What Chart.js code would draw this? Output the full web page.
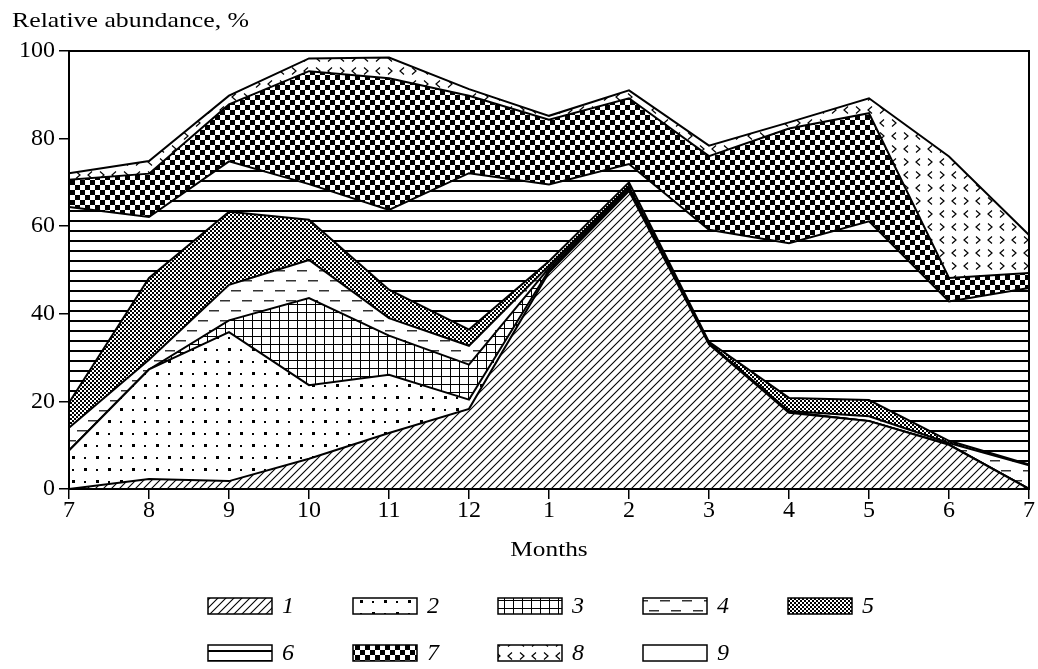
<!DOCTYPE html>
<html>
<head>
<meta charset="utf-8">
<script src="https://cdn.jsdelivr.net/npm/chart.js@4"></script>
<style>
  html, body { margin: 0; padding: 0; background: #fff; }
  #wrap { width: 1038px; height: 669px; }
</style>
</head>
<body>
<div id="wrap"><canvas id="abundance" width="1038" height="669"></canvas></div>
<script>
// months (July .. July)
var months = ['7', '8', '9', '10', '11', '12', '1', '2', '3', '4', '5', '6', '7'];
var seriesNames = ['1', '2', '3', '4', '5', '6', '7', '8', '9'];

// relative abundance of each group, % (stacked bottom -> top)
var g1 = [0, 2.3, 1.8, 6.9, 12.8, 18.3, 49.5, 68.0, 33.0, 17.4, 15.5, 10.1, 0];
var g2 = [8.8, 25.0, 34.0, 16.8, 13.3, 2.1, 0.5, 0.3, 0.1, 0.1, 0, 0, 0];
var g3 = [0, 0, 2.7, 19.9, 8.9, 8.0, 0.5, 0.3, 0.1, 0.1, 0, 0, 0];
var g4 = [5.2, 2.2, 8.1, 8.7, 4.0, 4.3, 0.5, 0.4, 0.1, 0.2, 1.1, 0.4, 5.4];
var g5 = [5.7, 18.7, 16.7, 9.2, 6.5, 3.7, 1.0, 1.0, 0.3, 3.0, 3.7, 0.5, 0.2];
var g6 = [44.7, 13.9, 11.5, 8.1, 18.2, 35.7, 17.5, 4.2, 25.6, 35.3, 40.8, 31.8, 40.3];
var g7 = [6.2, 9.9, 13.0, 25.8, 30.1, 17.7, 14.8, 15.0, 16.8, 26.2, 24.7, 5.4, 3.4];
var g8 = [1.5, 2.9, 2.0, 2.9, 4.7, 1.5, 0.9, 1.8, 2.4, 1.4, 3.4, 27.7, 8.7];
var g9 = [27.9, 25.1, 10.2, 1.7, 1.5, 8.7, 14.8, 9.0, 21.6, 16.3, 10.8, 24.1, 42.0];
var yTicks = [0, 20, 40, 60, 80, 100];

var serif = "'Liberation Serif', 'DejaVu Serif', serif";
var ctx = document.getElementById('abundance').getContext('2d');

// small pattern tiles for the black & white hatching
function tile(w, h, draw) {
    var c = document.createElement('canvas');
    c.width = w; c.height = h;
    var g = c.getContext('2d');
    g.fillStyle = '#fff';
    g.fillRect(0, 0, w, h);
    g.fillStyle = '#000';
    g.strokeStyle = '#000';
    draw(g);
    return ctx.createPattern(c, 'repeat');
}

function chevron(g, x, y, dir) {
    // dir = 1 -> '>', dir = -1 -> '<'
    g.moveTo(x - 2 * dir, y - 3.5);
    g.lineTo(x + 2 * dir, y);
    g.lineTo(x - 2 * dir, y + 3.5);
}

var patterns = [
    // 1 - diagonal hatching
    tile(8, 8, function (g) {
        g.lineWidth = 1.1;
        g.beginPath();
        g.moveTo(-1, 9); g.lineTo(9, -1);
        g.moveTo(-1, 1); g.lineTo(1, -1);
        g.moveTo(7, 9); g.lineTo(9, 7);
        g.stroke();
    }),
    // 2 - sparse dots
    tile(24, 24, function (g) {
        g.fillRect(0, 0, 3, 3);
        g.fillRect(12, 12, 3, 3);
        g.fillRect(12, 1, 2, 2);
        g.fillRect(0, 13, 2, 2);
    }),
    // 3 - square grid
    tile(9, 8, function (g) {
        g.fillRect(0, 0, 9, 1);
        g.fillRect(0, 0, 1, 8);
    }),
    // 4 - dashes
    tile(22, 20, function (g) {
        g.fillStyle = '#333';
        g.fillRect(0, 0, 10, 1.5);
        g.fillRect(11, 10, 10, 1.5);
    }),
    // 5 - fine checker
    tile(4, 4, function (g) {
        g.fillRect(0, 0, 2, 2);
        g.fillRect(2, 2, 2, 2);
    }),
    // 6 - horizontal lines
    tile(4, 10, function (g) {
        g.fillRect(0, 0, 4, 2);
    }),
    // 7 - coarse checker
    tile(10, 10, function (g) {
        g.fillRect(0, 0, 5, 5);
        g.fillRect(5, 5, 5, 5);
    }),
    // 8 - chevrons
    tile(24, 26, function (g) {
        g.lineWidth = 1.2;
        g.beginPath();
        chevron(g, 6, 6, -1);
        chevron(g, 18, 6, 1);
        chevron(g, 6, 19, 1);
        chevron(g, 18, 19, -1);
        g.stroke();
    }),
    // 9 - blank
    '#ffffff'
];

var groups = [g1, g2, g3, g4, g5, g6, g7, g8, g9];
var datasets = groups.map(function (d, i) {
    return {
        label: seriesNames[i],
        data: d,
        backgroundColor: patterns[i],
        borderColor: '#000',
        borderWidth: i === 8 ? 0 : 2,
        fill: i === 0 ? 'origin' : '-1',
        pointRadius: 0,
        tension: 0
    };
});

// frame, axis captions and the two-row legend
var decorations = {
    id: 'decorations',
    beforeDraw: function (chart) {
        var c = chart.ctx;
        c.save();
        c.fillStyle = '#fff';
        c.fillRect(0, 0, chart.width, chart.height);
        c.restore();
    },
    afterDraw: function (chart) {
        var c = chart.ctx, a = chart.chartArea;
        c.save();
        c.strokeStyle = '#000';
        c.lineWidth = 2;
        c.strokeRect(a.left, a.top, a.right - a.left, a.bottom - a.top);

        c.fillStyle = '#000';
        c.font = '21.5px ' + serif;
        c.textBaseline = 'alphabetic';
        c.save();
        c.translate(12, 27);
        c.scale(1.2, 1);
        c.fillText('Relative abundance, %', 0, 0);
        c.restore();

        c.save();
        c.font = '22px ' + serif;
        c.textAlign = 'center';
        c.translate((a.left + a.right) / 2, 556);
        c.scale(1.15, 1);
        c.fillText('Months', 0, 0);
        c.restore();

        chart.data.datasets.forEach(function (ds, i) {
            var col = i % 5, row = Math.floor(i / 5);
            var x = 208 + col * 145, y = 598 + row * 47;
            c.fillStyle = ds.backgroundColor;
            c.fillRect(x, y, 64, 16);
            c.lineWidth = 1.5;
            c.strokeStyle = '#000';
            c.strokeRect(x, y, 64, 16);
            c.fillStyle = '#000';
            c.font = 'italic 24px ' + serif;
            c.textAlign = 'left';
            c.textBaseline = 'middle';
            c.fillText(ds.label, x + 74, y + 9);
        });
        c.restore();
    }
};

var chart = new Chart(ctx, {
    type: 'line',
    data: { labels: months, datasets: datasets },
    plugins: [decorations],
    options: {
        responsive: false,
        animation: false,
        layout: { padding: { top: 51, right: 9, bottom: 140, left: 0 } },
        plugins: {
            legend: { display: false },
            tooltip: { enabled: false }
        },
        scales: {
            x: {
                type: 'category',
                offset: false,
                afterFit: function (scale) { scale.height = 40; },
                grid: { drawOnChartArea: false, drawTicks: true, tickLength: 10, color: '#000', lineWidth: 1.5 },
                border: { display: true, color: '#000', width: 2 },
                ticks: { color: '#000', font: { family: serif, size: 24 }, padding: -3, maxRotation: 0, autoSkip: false }
            },
            y: {
                stacked: true,
                min: 0,
                max: 100,
                afterFit: function (scale) { scale.width = 69; },
                afterBuildTicks: function (scale) {
                    scale.ticks = yTicks.map(function (v) { return { value: v }; });
                },
                grid: { drawOnChartArea: false, drawTicks: true, tickLength: 10, color: '#000', lineWidth: 1.5 },
                border: { display: true, color: '#000', width: 2 },
                ticks: { color: '#000', font: { family: serif, size: 24 }, padding: 4 }
            }
        }
    }
});
</script>
</body>
</html>
